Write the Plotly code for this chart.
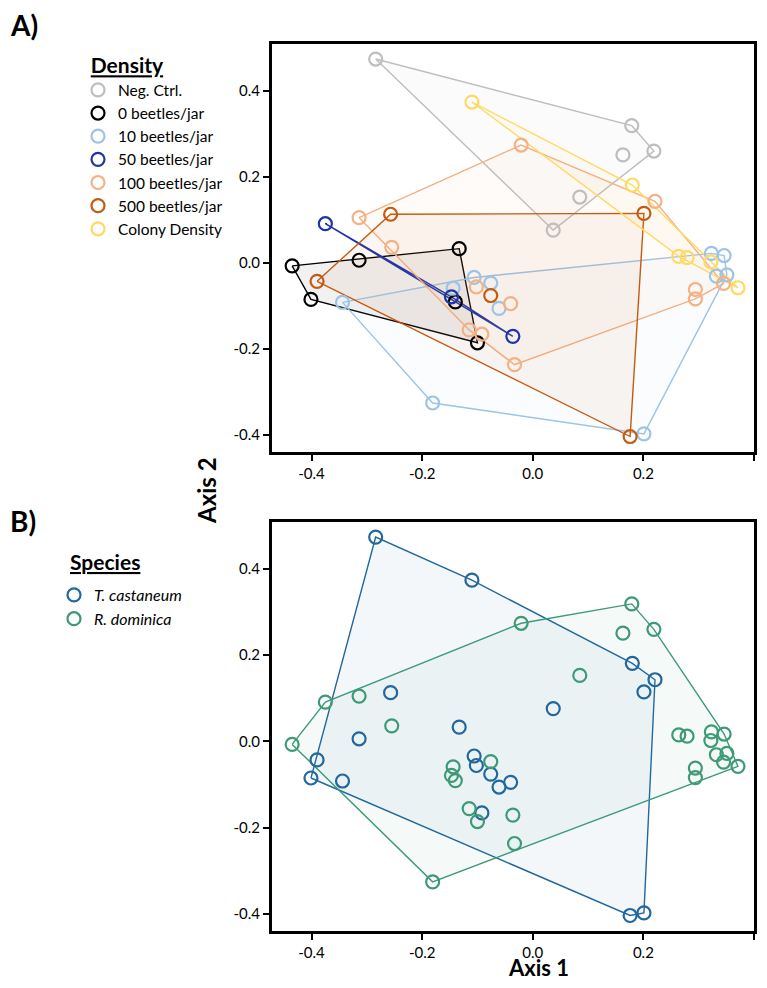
import plotly.graph_objects as go

# ---------------- data ----------------
density_names = ["Neg. Ctrl.", "0 beetles/jar", "10 beetles/jar", "50 beetles/jar",
                 "100 beetles/jar", "500 beetles/jar", "Colony Density"]
density_colors = ["#BEBEBE", "#000000", "#9DC3E6", "#1F34A8", "#F4B183", "#C55A11", "#FFD966"]

negctrl_x = [-0.284, 0.179, 0.219, 0.163, 0.085, 0.037]
negctrl_y = [0.474, 0.319, 0.260, 0.251, 0.153, 0.076]
negctrl_sp = ["T", "R", "R", "R", "R", "T"]

b0_x = [-0.435, -0.314, -0.133, -0.401, -0.140, -0.100]
b0_y = [-0.007, 0.006, 0.033, -0.085, -0.091, -0.186]
b0_sp = ["R", "T", "T", "T", "R", "R"]

b10_x = [0.323, 0.346, 0.332, 0.351, 0.201, -0.076, -0.061, -0.106, -0.144, -0.344, -0.181]
b10_y = [0.022, 0.017, -0.031, -0.028, -0.398, -0.047, -0.106, -0.034, -0.059, -0.092, -0.326]
b10_sp = ["R", "R", "R", "R", "T", "R", "T", "T", "R", "T", "R"]

b50_x = [-0.375, -0.147, -0.036]
b50_y = [0.091, -0.079, -0.171]
b50_sp = ["R", "R", "R"]

b100_x = [-0.314, -0.255, -0.021, 0.221, 0.294, 0.294, 0.345, -0.040, -0.033, -0.102, -0.115, -0.092]
b100_y = [0.105, 0.036, 0.274, 0.143, -0.062, -0.084, -0.048, -0.095, -0.237, -0.056, -0.156, -0.166]
b100_sp = ["R", "R", "R", "T", "R", "R", "R", "T", "R", "T", "R", "T"]

b500_x = [-0.257, 0.201, -0.390, -0.076, 0.176]
b500_y = [0.113, 0.115, -0.043, -0.076, -0.404]
b500_sp = ["T", "T", "T", "T", "T"]

colony_x = [-0.110, 0.180, 0.264, 0.279, 0.322, 0.371]
colony_y = [0.374, 0.181, 0.015, 0.012, 0.002, -0.058]
colony_sp = ["T", "T", "R", "R", "R", "R"]

species_names = ["<i>T. castaneum</i>", "<i>R. dominica</i>"]
species_codes = ["T", "R"]
species_colors = ["#22679E", "#3E9A76"]

tick_vals = [-0.4, -0.2, 0.0, 0.2, 0.4]
tick_text = ["-0.4", "-0.2", "0.0", "0.2", "0.4"]

groups_x = [negctrl_x, b0_x, b10_x, b50_x, b100_x, b500_x, colony_x]
groups_y = [negctrl_y, b0_y, b10_y, b50_y, b100_y, b500_y, colony_y]
groups_sp = [negctrl_sp, b0_sp, b10_sp, b50_sp, b100_sp, b500_sp, colony_sp]


# ---------------- helpers ----------------
def hull(xs, ys):
    pts = sorted(set(zip(xs, ys)))
    if len(pts) < 3:
        return pts

    def cross(o, a, b):
        return (a[0] - o[0]) * (b[1] - o[1]) - (a[1] - o[1]) * (b[0] - o[0])

    lower, upper = [], []
    for p in pts:
        while len(lower) >= 2 and cross(lower[-2], lower[-1], p) <= 0:
            lower.pop()
        lower.append(p)
    for p in reversed(pts):
        while len(upper) >= 2 and cross(upper[-2], upper[-1], p) <= 0:
            upper.pop()
        upper.append(p)
    return lower[:-1] + upper[:-1]


def rgba(hexc, a):
    h = hexc.lstrip("#")
    r, g, b = int(h[0:2], 16), int(h[2:4], 16), int(h[4:6], 16)
    return f"rgba({r},{g},{b},{a})"


# the page body has an 8px margin: the figure is sized to fit inside the 767x988 window
OFF = 8
W, H = 767 - 2 * OFF, 988 - 2 * OFF


def px(x):
    return (x - OFF) / W


def py(y):
    return 1 - (y - OFF) / H


FONT = "Lato"
fig = go.Figure()

# ---------- Panel A: hulls ----------
for xs, ys, col in zip(groups_x, groups_y, density_colors):
    h = hull(xs, ys)
    hx = [p[0] for p in h] + [h[0][0]]
    hy = [p[1] for p in h] + [h[0][1]]
    fig.add_trace(go.Scatter(x=hx, y=hy, mode="lines", fill="toself",
                             fillcolor=rgba(col, 0.055), line=dict(color=col, width=1.4),
                             hoverinfo="skip", showlegend=False, xaxis="x", yaxis="y"))
# ---------- Panel A: points ----------
for xs, ys, col, name in zip(groups_x, groups_y, density_colors, density_names):
    fig.add_trace(go.Scatter(x=xs, y=ys, mode="markers", name=name,
                             marker=dict(symbol="circle-open", size=13, color=col,
                                         line=dict(color=col, width=2.2)),
                             legend="legend", xaxis="x", yaxis="y"))

# ---------- Panel B ----------
all_x = [v for g in groups_x for v in g]
all_y = [v for g in groups_y for v in g]
all_sp = [v for g in groups_sp for v in g]
sp_data = []
for code in species_codes:
    sx = [x for x, s in zip(all_x, all_sp) if s == code]
    sy = [y for y, s in zip(all_y, all_sp) if s == code]
    sp_data.append((sx, sy))

for (sx, sy), col in zip(sp_data, species_colors):
    h = hull(sx, sy)
    hx = [p[0] for p in h] + [h[0][0]]
    hy = [p[1] for p in h] + [h[0][1]]
    fig.add_trace(go.Scatter(x=hx, y=hy, mode="lines", fill="toself",
                             fillcolor=rgba(col, 0.05), line=dict(color=col, width=1.4),
                             hoverinfo="skip", showlegend=False, xaxis="x2", yaxis="y2"))
for (sx, sy), col, name in zip(sp_data, species_colors, species_names):
    fig.add_trace(go.Scatter(x=sx, y=sy, mode="markers", name=name,
                             marker=dict(symbol="circle-open", size=13, color=col,
                                         line=dict(color=col, width=2.2)),
                             legend="legend2", xaxis="x2", yaxis="y2"))

xdom = [px(271.7), px(754)]
ydomA = [py(452), py(44)]
ydomB = [py(931), py(522)]

axis_common = dict(showline=True, linecolor="black", linewidth=2.5, mirror=True,
                   ticks="outside", ticklen=6, tickwidth=2, tickcolor="black",
                   showgrid=False, zeroline=False, tickvals=tick_vals, ticktext=tick_text,
                   tickfont=dict(family=FONT, size=15, color="black"))
xr = [-0.472, 0.40]
yr = [-0.44, 0.509]

fig.update_layout(
    width=W, height=H, margin=dict(l=0, r=0, t=0, b=0),
    paper_bgcolor="white", plot_bgcolor="white",
    font=dict(family=FONT, color="black"),
    xaxis=dict(domain=xdom, range=xr, anchor="y", **axis_common),
    yaxis=dict(domain=ydomA, range=yr, anchor="x", **axis_common),
    xaxis2=dict(domain=xdom, range=xr, anchor="y2", **axis_common),
    yaxis2=dict(domain=ydomB, range=yr, anchor="x2", **axis_common),
    legend=dict(x=px(78), y=py(46), xanchor="left", yanchor="top",
                bgcolor="rgba(0,0,0,0)", font=dict(family=FONT, size=15.5),
                title=dict(text="&nbsp;&nbsp;<b><u>Density</u></b>",
                           font=dict(family=FONT, size=21)),
                itemclick=False, itemdoubleclick=False),
    legend2=dict(x=px(54), y=py(578), xanchor="left", yanchor="top",
                 bgcolor="rgba(0,0,0,0)", font=dict(family=FONT, size=16),
                 itemclick=False, itemdoubleclick=False),
    annotations=[
        dict(text="<b>A)</b>", x=0, y=py(6), xref="paper", yref="paper",
             xanchor="left", yanchor="top", showarrow=False, font=dict(family=FONT, size=28)),
        dict(text="<b>B)</b>", x=0, y=py(502), xref="paper", yref="paper",
             xanchor="left", yanchor="top", showarrow=False, font=dict(family=FONT, size=28)),
        dict(text="<b><u>Species</u></b>", x=px(68), y=py(561), xref="paper", yref="paper",
             xanchor="left", yanchor="middle", showarrow=False, font=dict(family=FONT, size=21)),
        dict(text="<b>Axis 2</b>", x=px(206), y=py(491), xref="paper", yref="paper",
             xanchor="center", yanchor="middle", textangle=-90, showarrow=False,
             font=dict(family=FONT, size=24)),
        dict(text="<b>Axis 1</b>", x=px(538), y=py(967), xref="paper", yref="paper",
             xanchor="center", yanchor="middle", showarrow=False,
             font=dict(family=FONT, size=22)),
    ],
)

fig.write_html("out.html")
